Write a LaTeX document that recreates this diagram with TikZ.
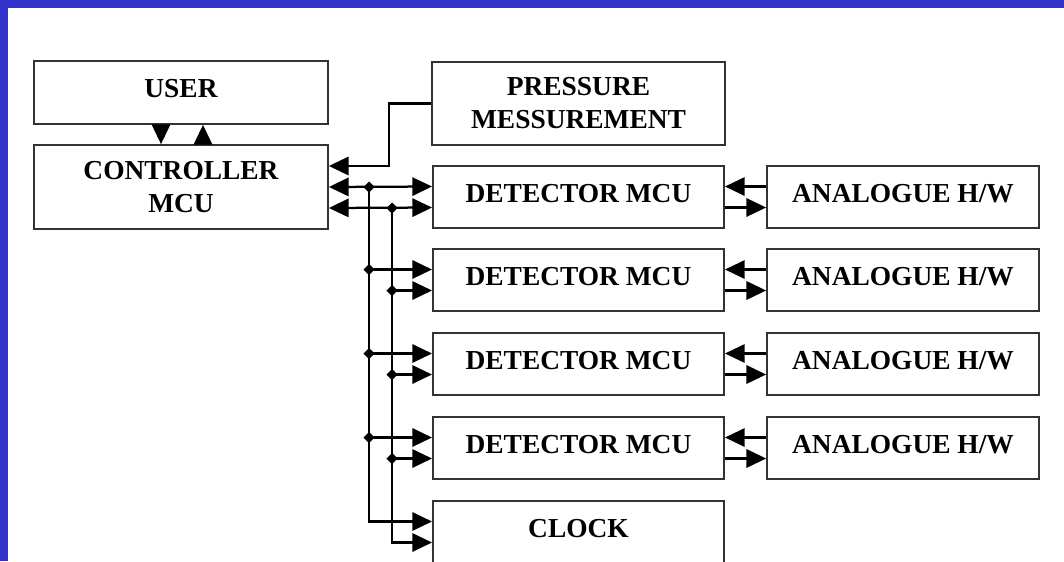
\documentclass[tikz,border=0pt]{standalone}
\usepackage{fontspec}
\setmainfont{Liberation Serif}
\usetikzlibrary{arrows.meta,calc,shapes.geometric}
\definecolor{frameblue}{RGB}{51,51,204}
\tikzset{
  box/.style={draw=black!80,line width=1.2pt,fill=white,align=center,inner sep=0pt,
    font=\fontsize{19.5}{23.5}\selectfont\bfseries},
  onebox/.style={box,text depth=5.5pt},
  detbox/.style={onebox,minimum width=7.28cm,minimum height=1.55cm},
  anabox/.style={onebox,minimum width=6.8cm,minimum height=1.55cm},
  wire/.style={line width=1.6pt},
  arr/.style={wire,-{Triangle[length=14pt,width=13pt]}},
  darr/.style={wire,{Triangle[length=14pt,width=13pt]}-{Triangle[length=14pt,width=13pt]}},
  junc/.style={diamond,fill=black,inner sep=0pt,minimum size=8pt},
}
\begin{document}
\begin{tikzpicture}[x=0.025cm,y=-0.025cm]
\useasboundingbox (0,0) rectangle (1064,561);
\fill[frameblue] (0,0) rectangle (1064,8);
\fill[frameblue] (0,0) rectangle (8,561);
% left column
\node[onebox,minimum width=7.35cm,minimum height=1.575cm] (user) at (181,92.5) {USER};
\node[box,minimum width=7.35cm,minimum height=2.1cm] (ctrl) at (181,187) {CONTROLLER\\MCU};
\node[box,minimum width=7.33cm,minimum height=2.075cm] (press) at (578.5,103.5) {PRESSURE\\MESSUREMENT};
\draw[arr] ($(user.south)+(-20,0)$) -- ($(ctrl.north)+(-20,0)$);
\draw[arr] ($(ctrl.north)+(22,0)$) -- ($(user.south)+(22,0)$);
\draw[arr] (press.west) -- ++(-42,0) |- ($(ctrl.east)+(0,-21)$);
% detectors and analogue boards
\foreach \i/\y in {1/197,2/280,3/364,4/448}{
  \node[detbox] (det\i) at (578.5,\y) {DETECTOR MCU};
  \node[anabox] (ana\i) at (903,\y) {ANALOGUE H/W};
  \draw[arr] ($(ana\i.west)+(0,-10.5)$) coordinate (ha\i) -- (ha\i -| det\i.east);
  \draw[arr] ($(det\i.east)+(0,10.5)$) coordinate (hb\i) -- (hb\i -| ana\i.west);
  \coordinate (ina\i) at ($(det\i.west)+(0,-10.5)$);
  \coordinate (inb\i) at ($(det\i.west)+(0,10.5)$);
}
\node[detbox] (clock) at (578.5,532) {CLOCK};
% bus
\coordinate (busA) at (369,187);
\coordinate (busB) at (392,208);
\draw[darr] (ctrl.east) -- (ina1);
\draw[darr] ($(ctrl.east)+(0,21)$) -- (inb1);
\draw[arr] (busA) |- ($(clock.west)+(0,-10.5)$);
\draw[arr] (busB) |- ($(clock.west)+(0,10.5)$);
\foreach \i in {2,3,4}{
  \draw[arr] (busA |- ina\i) -- (ina\i);
  \draw[arr] (busB |- inb\i) -- (inb\i);
  \node[junc] at (busA |- ina\i) {};
  \node[junc] at (busB |- inb\i) {};
}
\node[junc] at (busA) {};
\node[junc] at (busB) {};
\end{tikzpicture}
\end{document}
